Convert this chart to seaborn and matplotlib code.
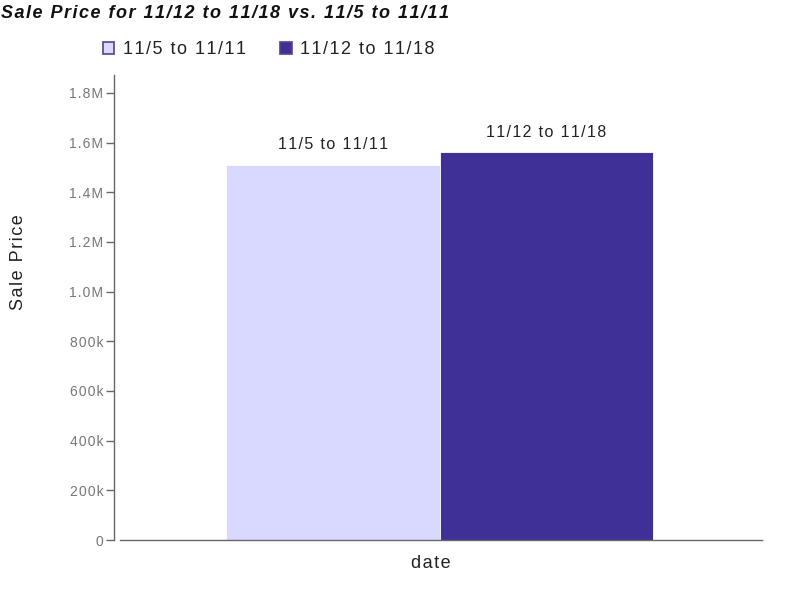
import numpy as np
import pandas as pd
import matplotlib
matplotlib.use('Agg')
import matplotlib.pyplot as plt
import seaborn as sns
from matplotlib.ticker import FuncFormatter

# 数据
periods = ['11/5 to 11/11', '11/12 to 11/18']
prices = [1510000, 1562000]
category = ['date', 'date']
colors = ['#d9d9ff', '#3f3098']

sns.set_theme(style='white')
plt.rcParams['font.family'] = ['Liberation Sans', 'DejaVu Sans']


def spaced(s):
    # 用细空格模拟字间距
    return '\u200a'.join(s)


df = pd.DataFrame({'x': category, 'period': periods, 'price': prices})

fig = plt.figure(figsize=(8, 6), dpi=100)
ax = fig.add_axes([120 / 800, 60 / 600, 642 / 800, 465 / 600])

sns.barplot(data=df, x='x', y='price', hue='period', hue_order=periods,
            palette=colors, width=0.666, edgecolor='white', linewidth=0.6,
            saturation=1, ax=ax, legend=False)

d = 1.5 / 642
ax.set_xlim(-0.5 + d, 0.5 + d)
ax.set_ylim(0, 1872000)
ax.set_yticks(np.arange(0, 1800001, 200000))


def fmt(v, pos):
    if v == 0:
        return '0'
    if v < 1000000:
        return spaced(f'{int(v / 1000)}k')
    return spaced(f'{v / 1000000:.1f}M')


ax.yaxis.set_major_formatter(FuncFormatter(fmt))
ax.tick_params(axis='y', left=True, length=6, width=1, color='#666666',
               labelcolor='#777777', labelsize=10, pad=2)
ax.tick_params(axis='x', bottom=False, labelbottom=False)

for s in ['top', 'right']:
    ax.spines[s].set_visible(False)
ax.spines['left'].set_position(('outward', 4))
for s in ['left', 'bottom']:
    ax.spines[s].set_color('#666666')
    ax.spines[s].set_linewidth(1)

# 柱子上方的标签
for cont, name in zip(ax.containers, periods):
    ax.bar_label(cont, labels=[spaced(name)], padding=9, fontsize=11.5, color='#222222')

ax.set_xlabel(spaced('date'), fontsize=13, color='#222222')
ax.xaxis.set_label_coords(0.484, -0.033)
ax.set_ylabel(spaced('Sale Price'), fontsize=13, color='#222222')
ax.yaxis.set_label_coords(-0.145, 0.598)

fig.text(0.001, 0.992, spaced('Sale Price for 11/12 to 11/18 vs. 11/5 to 11/11'),
         fontsize=13, fontweight='bold', fontstyle='italic', color='#111111',
         ha='left', va='top')

# 图例
handles = [plt.Rectangle((0, 0), 1, 1, facecolor=c, edgecolor='#5b3f8c', linewidth=1.2)
           for c in colors]
fig.legend(handles, [spaced(p) for p in periods], loc='center left',
           bbox_to_anchor=(0.108, 0.917), ncol=2, frameon=False, fontsize=13,
           handlelength=0.65, handleheight=0.65, handletextpad=0.45,
           columnspacing=1.9, labelcolor='#222222')

fig.savefig('out.png', dpi=100)
plt.close(fig)
